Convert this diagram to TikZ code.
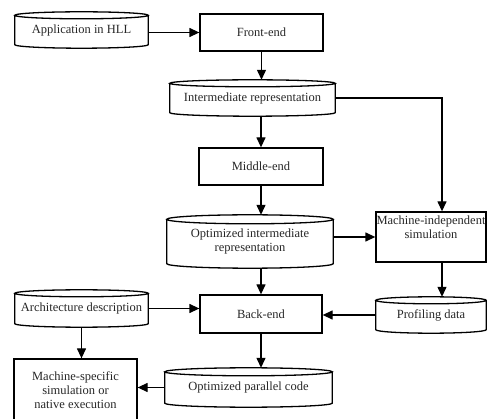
\documentclass[tikz,border=0pt]{standalone}
\usepackage{fontspec}
\setmainfont{Liberation Serif}
\usetikzlibrary{arrows.meta,calc}

% outline of a drum (data store) around a named rectangular node
\newcommand\drumoutline[2]{%
  \draw[line width=1.3pt] let \p1=(#1.north west), \p2=(#1.south east),
      \n1={0.5*(\x2-\x1)} in
    (\x1,\y1-#2) -- (\x1,\y2+#2)
      arc[start angle=180,end angle=360,x radius=\n1,y radius=#2]
      -- (\x2,\y1-#2)
    ([yshift=-#2]#1.north) ellipse[x radius=\n1,y radius=#2];}

\begin{document}
\begin{tikzpicture}[x=1pt,y=-1pt,
  every node/.style={font=\fontsize{12.5}{14}\selectfont, align=center, inner sep=0pt, text=black!85},
  stage/.style={draw=black, line width=1.3pt, rectangle},
  store/.style={rectangle},
  flow/.style={line width=1.3pt, -{Triangle[length=10pt,width=9pt]}}]
\useasboundingbox (0,0) rectangle (487,419);
\clip (0,0) rectangle (487,419);

% processing stages
\node[stage, minimum width=123pt, minimum height=37pt] (front) at (261.5,32.5) {Front-end};
\node[stage, minimum width=124pt, minimum height=37pt] (mid) at (261,166.5) {Middle-end};
\node[stage, minimum width=122pt, minimum height=38pt] (back) at (261,314) {Back-end};
\node[stage, minimum width=110pt, minimum height=50pt] (mis) at (431,237) {};
\node (mistext) at (431,227) {Machine-independent\\simulation};
\node[stage, minimum width=123pt, minimum height=63pt] (ms) at (75.5,390.5) {Machine-specific\\simulation or\\native execution};

% data stores
\node[store, minimum width=133pt, minimum height=36pt] (app) at (81.5,30) {Application in HLL};
\node[store, minimum width=165pt, minimum height=36pt] (ir) at (252.5,98) {Intermediate representation};
\node[store, minimum width=166pt, minimum height=53pt] (oir) at (250,241.5) {Optimized intermediate\\representation};
\node[store, minimum width=110pt, minimum height=36pt] (prof) at (431,315) {Profiling data};
\node[store, minimum width=133pt, minimum height=37pt] (arch) at (81.5,308.5) {Architecture description};
\node[store, minimum width=167pt, minimum height=39pt] (opc) at (248.5,387.5) {Optimized parallel code};

\drumoutline{app}{3.5pt}
\drumoutline{ir}{3.5pt}
\drumoutline{oir}{4.5pt}
\drumoutline{prof}{3.5pt}
\drumoutline{arch}{3.5pt}
\drumoutline{opc}{4pt}

% connectors
\draw[flow] (app.east |- front.west) -- (front.west);
\draw[flow] (front.south) -- (front.south |- ir.north);
\draw[flow] (ir.south -| mid.north) -- (mid.north);
\draw[flow] (mid.south) -- (mid.south |- oir.north);
\draw[flow] (ir.east) -| ([xshift=11pt]mis.north);
\draw[flow] (mis.west -| oir.east) -- (mis.west);
\draw[flow] ([xshift=11pt]mis.south) -- ([xshift=11pt]mis.south |- prof.north);
\draw[flow] (back.north |- oir.south) -- (back.north);
\draw[flow] (prof.west) -- (prof.west -| back.east);
\draw[flow] (arch.east) -- (arch.east -| back.west);
\draw[flow] (arch.south) -- (arch.south |- ms.north);
\draw[flow] (back.south) -- (back.south |- opc.north);
\draw[flow] (opc.west) -- (opc.west -| ms.east);
\end{tikzpicture}
\end{document}
